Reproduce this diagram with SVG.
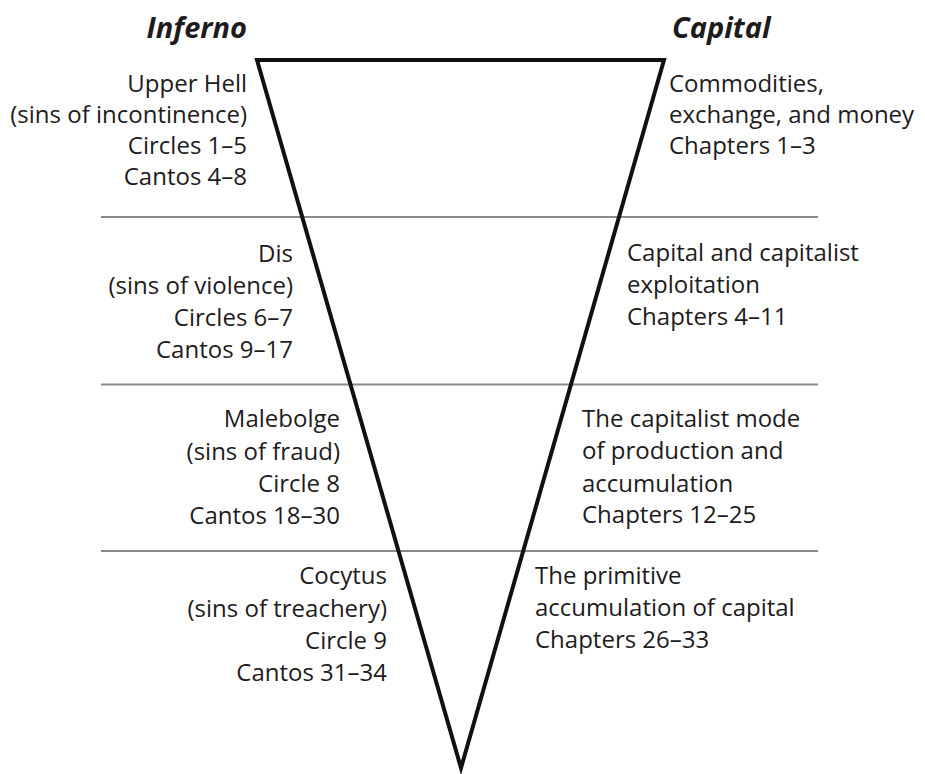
<svg xmlns="http://www.w3.org/2000/svg" width="925" height="774" viewBox="0 0 925 774">
<style>
  .t { font-family: "Open Sans", "Liberation Sans", sans-serif; font-size: 24px; font-weight: 500; fill: #1e1b1c; }
  .l { text-anchor: end; }
  .r { text-anchor: start; }
  .h { font-family: "Open Sans", "Liberation Sans", sans-serif; font-size: 29px; font-weight: bold; font-style: italic; fill: #1e1b1c; }
  .div { stroke: #8a8a8a; stroke-width: 2; fill: none; }
  .tri { stroke: #111; stroke-width: 4; fill: none; stroke-linejoin: miter; stroke-miterlimit: 10; }
</style>
<rect width="925" height="774" fill="#ffffff"/>
<g id="dividers">
  <line class="div" x1="101" y1="217" x2="818" y2="217"/>
  <line class="div" x1="101" y1="384.5" x2="818" y2="384.5"/>
  <line class="div" x1="101" y1="551" x2="818" y2="551"/>
</g>
<g id="funnel">
  <polygon class="tri" points="257,60 664,60 461,768"/>
</g>
<g id="titles">
  <text class="h" x="247" y="38" text-anchor="end">Inferno</text>
  <text class="h" x="672" y="38">Capital</text>
</g>
<g id="upper-hell">
  <text class="t l" x="247" y="92">Upper Hell</text>
  <text class="t l" x="247" y="122.5">(sins of incontinence)</text>
  <text class="t l" x="247" y="153.5">Circles 1–5</text>
  <text class="t l" x="247" y="185">Cantos 4–8</text>
</g>
<g id="dis">
  <text class="t l" x="293" y="262">Dis</text>
  <text class="t l" x="293" y="294">(sins of violence)</text>
  <text class="t l" x="293" y="326">Circles 6–7</text>
  <text class="t l" x="293" y="357.5">Cantos 9–17</text>
</g>
<g id="malebolge">
  <text class="t l" x="340" y="427">Malebolge</text>
  <text class="t l" x="340" y="459.5">(sins of fraud)</text>
  <text class="t l" x="340" y="491.5">Circle 8</text>
  <text class="t l" x="340" y="523.5">Cantos 18–30</text>
</g>
<g id="cocytus">
  <text class="t l" x="387" y="584">Cocytus</text>
  <text class="t l" x="387" y="616.5">(sins of treachery)</text>
  <text class="t l" x="387" y="648.5">Circle 9</text>
  <text class="t l" x="387" y="680.5">Cantos 31–34</text>
</g>
<g id="commodities">
  <text class="t r" x="669" y="92">Commodities,</text>
  <text class="t r" x="669" y="122.5">exchange, and money</text>
  <text class="t r" x="669" y="153.5">Chapters 1–3</text>
</g>
<g id="capital-exploitation">
  <text class="t r" x="627" y="261">Capital and capitalist</text>
  <text class="t r" x="627" y="293">exploitation</text>
  <text class="t r" x="627" y="325">Chapters 4–11</text>
</g>
<g id="capitalist-mode">
  <text class="t r" x="582" y="427">The capitalist mode</text>
  <text class="t r" x="582" y="459">of production and</text>
  <text class="t r" x="582" y="491.5">accumulation</text>
  <text class="t r" x="582" y="523">Chapters 12–25</text>
</g>
<g id="primitive-accumulation">
  <text class="t r" x="535" y="584">The primitive</text>
  <text class="t r" x="535" y="616">accumulation of capital</text>
  <text class="t r" x="535" y="648">Chapters 26–33</text>
</g>
</svg>
